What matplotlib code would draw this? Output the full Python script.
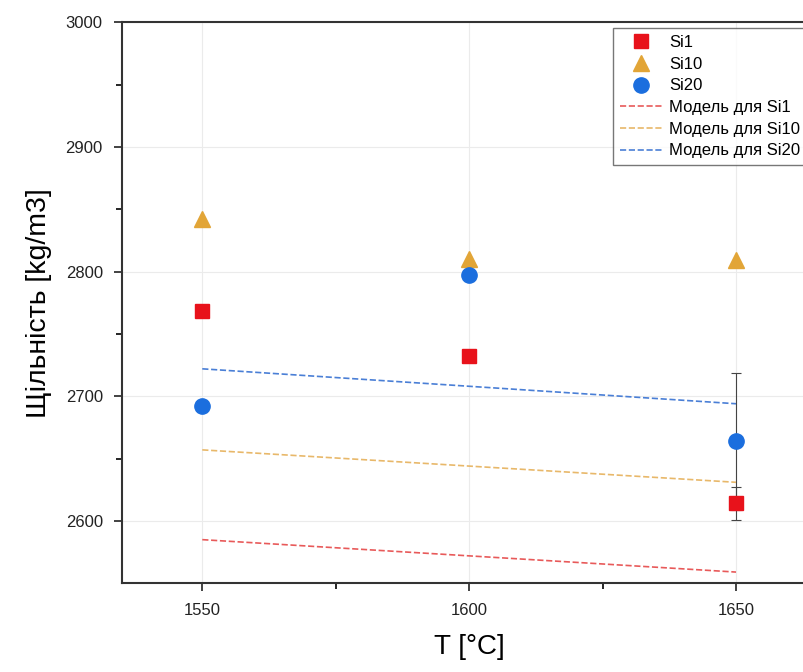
import matplotlib.pyplot as plt
import numpy as np

plt.rcParams['font.family'] = ['Liberation Sans', 'DejaVu Sans']

T = [1550, 1600, 1650]
si1 = [2768, 2732, 2614]
si10 = [2842, 2810, 2809]
si20 = [2692, 2797, 2664]

# error bars only at the last point
si1_err = [0, 0, 13]
si20_err = [0, 0, 55]

model_T = [1550, 1650]
model_si1 = [2585, 2559]
model_si10 = [2657, 2631]
model_si20 = [2722, 2694]

red = '#e8121b'
orange = '#e2a537'
blue = '#1b6ede'

fig = plt.figure(figsize=(8.04, 6.72), dpi=100)
ax = fig.add_axes([0.152, 0.132, 0.863, 0.835])

ax.grid(True, color='#ebebeb', linewidth=0.8, zorder=0)

ax.errorbar(T, si20, yerr=si20_err, fmt='none', ecolor='#444444',
            elinewidth=0.8, capsize=3.5, capthick=0.8, zorder=2)
ax.errorbar(T, si1, yerr=si1_err, fmt='none', ecolor='#444444',
            elinewidth=0.8, capsize=3.5, capthick=0.8, zorder=2)

ax.plot(T, si1, 's', color=red, markersize=10, label='Si1', zorder=3)
ax.plot(T, si10, '^', color=orange, markersize=11, label='Si10', zorder=3)
ax.plot(T, si20, 'o', color=blue, markersize=11, label='Si20', zorder=3)

ax.plot(model_T, model_si1, '--', color='#e85a5a', linewidth=1.2,
        label='Модель для Si1', zorder=2)
ax.plot(model_T, model_si10, '--', color='#e8b86a', linewidth=1.2,
        label='Модель для Si10', zorder=2)
ax.plot(model_T, model_si20, '--', color='#4a7fd6', linewidth=1.2,
        label='Модель для Si20', zorder=2)

ax.set_xlim(1535, 1665)
ax.set_ylim(2550, 3000)
ax.set_xticks([1550, 1600, 1650])
ax.set_xticks([1575, 1625], minor=True)
ax.set_yticks([2600, 2700, 2800, 2900, 3000])
ax.set_yticks([2650, 2750, 2850, 2950], minor=True)
ax.tick_params(axis='both', which='major', direction='out', length=6,
               width=1.2, labelsize=12, colors='#222222', pad=8)
ax.tick_params(axis='both', which='minor', direction='out', length=4, width=1.2)

for s in ax.spines.values():
    s.set_linewidth(1.5)
    s.set_color('#333333')

ax.set_xlabel('T [°C]', fontsize=20, labelpad=12)
ax.set_ylabel('Щільність [kg/m3]', fontsize=20.5, labelpad=10)

leg = ax.legend(loc='upper left', bbox_to_anchor=(0.7075, 0.989), fontsize=12,
                frameon=True, fancybox=False, edgecolor='#555555',
                handlelength=2.6, handletextpad=0.35, labelspacing=0.4,
                borderpad=0.4, borderaxespad=0)
leg.get_frame().set_linewidth(1.0)

fig.savefig('out.png', dpi=100)
